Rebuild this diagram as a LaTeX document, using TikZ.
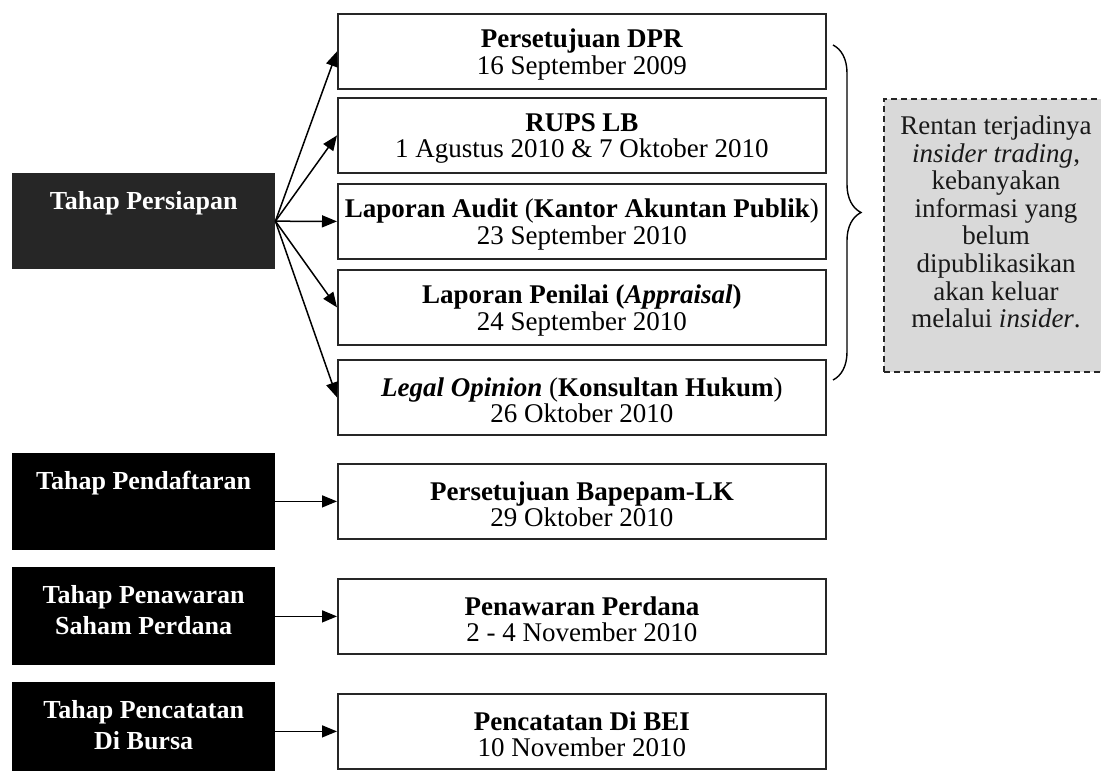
\documentclass[tikz,border=0pt]{standalone}
\usepackage{fontspec}
\setmainfont{Liberation Serif}
\usetikzlibrary{arrows.meta,decorations.pathreplacing}
\begin{document}
\begin{tikzpicture}[x=1pt,y=-1pt,
  stagebox/.style={fill=black, draw=none, minimum width=263pt, anchor=north west, inner sep=0pt},
  stagelbl/.style={text=white, font=\fontsize{26pt}{31pt}\selectfont\bfseries, align=center, anchor=north, inner sep=0pt},
  evbox/.style={draw=black!85, line width=1.8pt, fill=white, minimum width=488pt, minimum height=75pt, anchor=north west, inner sep=0pt, align=center, font=\fontsize{27pt}{27pt}\selectfont},
  evtext/.style={font=\fontsize{27pt}{26.5pt}\selectfont, align=center, inner sep=0pt},
  arr/.style={line width=1.5pt, -{Triangle[length=15pt,width=12pt]}},
  notebox/.style={draw=black!85, fill=black!15, line width=1.5pt, dash pattern=on 6pt off 4pt, anchor=north west, inner sep=0pt},
  notetext/.style={font=\fontsize{27pt}{27.6pt}\selectfont, align=center, text=black!90}
]
\useasboundingbox (0,0) rectangle (1101,771);

% left stage boxes
\node[stagebox, fill=black!85, minimum height=96pt] (s1) at (12,173) {};
\node[stagelbl] (s1t) at ([yshift=-18pt]s1.north) {Tahap Persiapan};
\node[stagebox, minimum height=97pt] (s2) at (12,453) {};
\node[stagelbl] (s2t) at ([yshift=-18pt]s2.north) {Tahap Pendaftaran};
\node[stagebox, minimum height=98pt] (s3) at (12,567) {};
\node[stagelbl] (s3t) at ([yshift=-18pt]s3.north) {Tahap Penawaran\\Saham Perdana};
\node[stagebox, minimum height=95pt] (s4) at (12,682) {};
\node[stagelbl] (s4t) at ([yshift=-18pt]s4.north) {Tahap Pencatatan\\Di Bursa};

% event boxes
\node[evbox] (e1) at (337,13) {};
\node[evbox] (e2) at (337,97) {};
\node[evbox] (e3) at (337,183) {};
\node[evbox] (e4) at (337,269) {};
\node[evbox] (e5) at (337,359) {};
\node[evbox] (e6) at (337,463) {};
\node[evbox] (e7) at (337,578) {};
\node[evbox] (e8) at (337,693) {};
\node[evtext] (t1) at ([yshift=-3pt]e1.center) {\textbf{Persetujuan DPR}\\16 September 2009};
\node[evtext] (t2) at ([yshift=-3pt]e2.center) {\textbf{RUPS LB}\\1 Agustus 2010 \& 7 Oktober 2010};
\node[evtext] (t3) at ([yshift=-3pt]e3.center) {\textbf{Laporan Audit} (\textbf{Kantor Akuntan Publik})\\23 September 2010};
\node[evtext] (t4) at ([yshift=-3pt]e4.center) {\textbf{Laporan Penilai (\textit{Appraisal})}\\24 September 2010};
\node[evtext] (t5) at ([yshift=-3pt]e5.center) {\textbf{\textit{Legal Opinion}} (\textbf{Konsultan Hukum})\\26 Oktober 2010};
\node[evtext] (t6) at ([yshift=-3pt]e6.center) {\textbf{Persetujuan Bapepam-LK}\\29 Oktober 2010};
\node[evtext] (t7) at ([yshift=-3pt]e7.center) {\textbf{Penawaran Perdana}\\2 - 4 November 2010};
\node[evtext] (t8) at ([yshift=-3pt]e8.center) {\textbf{Pencatatan Di BEI}\\10 November 2010};

% arrows
\foreach \e in {e1,e2,e3,e4,e5} \draw[arr] (s1.east) -- (\e.west);
\draw[arr] (s2.east |- e6.west) -- (e6.west);
\draw[arr] (s3.east |- e7.west) -- (e7.west);
\draw[arr] (s4.east |- e8.west) -- (e8.west);

% brace
\coordinate (bt) at (833,45);
\coordinate (bb) at (833,380);
\draw[line width=1.4pt, decorate, decoration={brace, amplitude=28pt}] (bt) -- (bb);

% note
\node[notebox, minimum width=230pt, minimum height=273pt] (nb) at (883,98) {};
\node[notetext] (nt) at (996,222) {Rentan terjadinya\\\textit{insider trading},\\kebanyakan\\informasi yang\\belum\\dipublikasikan\\akan keluar\\melalui \textit{insider}.};
\end{tikzpicture}
\end{document}
